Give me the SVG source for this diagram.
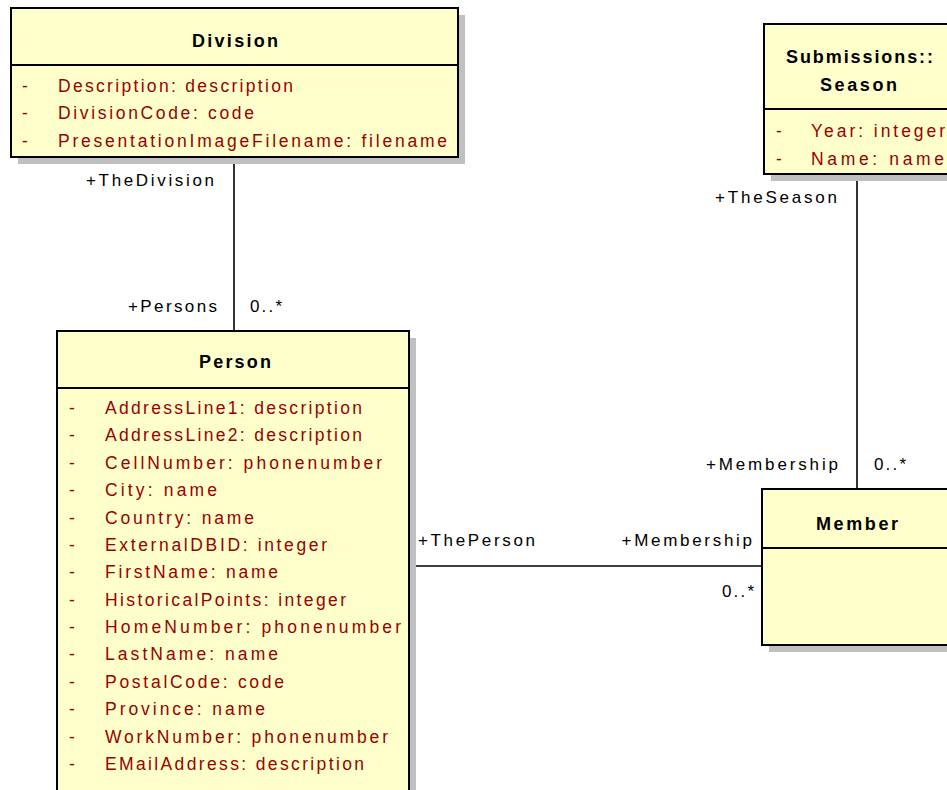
<svg xmlns="http://www.w3.org/2000/svg" width="947" height="790" viewBox="0 0 947 790">
<style>
.shadow{fill:#c0c0c0}
.box{fill:#ffffcc;stroke:#000;stroke-width:2}
.sep{stroke:#000;stroke-width:2}
.title{font-family:"Liberation Sans",Arial,sans-serif;font-size:18px;font-weight:bold;fill:#000}
.attr{font-family:"Liberation Sans",Arial,sans-serif;font-size:17.5px;fill:#990000}
.lbl{font-family:"Liberation Sans",Arial,sans-serif;font-size:17px;fill:#000}
.conn{stroke:#000;stroke-width:1.6;fill:none}
</style>
<rect width="947" height="790" fill="#ffffff"/>
<g id="connectors">
<line class="conn" x1="234" y1="157" x2="234" y2="331"/>
<line class="conn" x1="857" y1="174" x2="857" y2="489"/>
<line class="conn" x1="409" y1="566" x2="762" y2="566"/>
<text class="lbl" x="86" y="185.5" textLength="128" lengthAdjust="spacing">+TheDivision</text>
<text class="lbl" x="128" y="311.5" textLength="89" lengthAdjust="spacing">+Persons</text>
<text class="lbl" x="250" y="311.5" textLength="32" lengthAdjust="spacing">0..*</text>
<text class="lbl" x="715" y="203" textLength="122" lengthAdjust="spacing">+TheSeason</text>
<text class="lbl" x="706" y="470" textLength="132" lengthAdjust="spacing">+Membership</text>
<text class="lbl" x="874" y="470" textLength="32" lengthAdjust="spacing">0..*</text>
<text class="lbl" x="418" y="546" textLength="117" lengthAdjust="spacing">+ThePerson</text>
<text class="lbl" x="621.5" y="546" textLength="130.5" lengthAdjust="spacing">+Membership</text>
<text class="lbl" x="722" y="597" textLength="32" lengthAdjust="spacing">0..*</text>
</g>
<g id="division">
<rect class="shadow" x="18" y="15" width="447" height="149"/>
<rect class="box" x="11" y="8" width="447" height="149"/>
<line class="sep" x1="11" y1="65" x2="458" y2="65"/>
<text class="title" x="192" y="46.5" textLength="86" lengthAdjust="spacing">Division</text>
<text class="attr" x="22" y="91.5">-</text>
<text class="attr" x="58" y="91.5" textLength="235" lengthAdjust="spacing">Description: description</text>
<text class="attr" x="22" y="119">-</text>
<text class="attr" x="58" y="119" textLength="196" lengthAdjust="spacing">DivisionCode: code</text>
<text class="attr" x="22" y="146.5">-</text>
<text class="attr" x="58" y="146.5" textLength="389" lengthAdjust="spacing">PresentationImageFilename: filename</text>
</g>
<g id="season">
<rect class="shadow" x="771" y="31" width="190" height="150"/>
<rect class="box" x="764" y="24" width="190" height="150"/>
<line class="sep" x1="764" y1="109" x2="954" y2="109"/>
<text class="title" x="786" y="63" textLength="147" lengthAdjust="spacing">Submissions::</text>
<text class="title" x="820" y="91" textLength="77" lengthAdjust="spacing">Season</text>
<text class="attr" x="776" y="137">-</text>
<text class="attr" x="811" y="137" textLength="134" lengthAdjust="spacing">Year: integer</text>
<text class="attr" x="776" y="165">-</text>
<text class="attr" x="811" y="165" textLength="133" lengthAdjust="spacing">Name: name</text>
</g>
<g id="person">
<rect class="shadow" x="64" y="338" width="352" height="480"/>
<rect class="box" x="57" y="331" width="352" height="480"/>
<line class="sep" x1="57" y1="388" x2="409" y2="388"/>
<text class="title" x="199" y="368" textLength="72" lengthAdjust="spacing">Person</text>
<g class="attr">
<text x="69" y="414">-</text><text x="105" y="414" textLength="257" lengthAdjust="spacing">AddressLine1: description</text>
<text x="69" y="441.4">-</text><text x="105" y="441.4" textLength="257" lengthAdjust="spacing">AddressLine2: description</text>
<text x="69" y="468.8">-</text><text x="105" y="468.8" textLength="277" lengthAdjust="spacing">CellNumber: phonenumber</text>
<text x="69" y="496.1">-</text><text x="105" y="496.1" textLength="112" lengthAdjust="spacing">City: name</text>
<text x="69" y="523.5">-</text><text x="105" y="523.5" textLength="149" lengthAdjust="spacing">Country: name</text>
<text x="69" y="550.9">-</text><text x="105" y="550.9" textLength="222" lengthAdjust="spacing">ExternalDBID: integer</text>
<text x="69" y="578.3">-</text><text x="105" y="578.3" textLength="173" lengthAdjust="spacing">FirstName: name</text>
<text x="69" y="605.7">-</text><text x="105" y="605.7" textLength="241" lengthAdjust="spacing">HistoricalPoints: integer</text>
<text x="69" y="633">-</text><text x="105" y="633" textLength="296" lengthAdjust="spacing">HomeNumber: phonenumber</text>
<text x="69" y="660.4">-</text><text x="105" y="660.4" textLength="173" lengthAdjust="spacing">LastName: name</text>
<text x="69" y="687.8">-</text><text x="105" y="687.8" textLength="179" lengthAdjust="spacing">PostalCode: code</text>
<text x="69" y="715.2">-</text><text x="105" y="715.2" textLength="160" lengthAdjust="spacing">Province: name</text>
<text x="69" y="742.5">-</text><text x="105" y="742.5" textLength="283" lengthAdjust="spacing">WorkNumber: phonenumber</text>
<text x="69" y="769.9">-</text><text x="105" y="769.9" textLength="259" lengthAdjust="spacing">EMailAddress: description</text>
</g>
</g>
<g id="member">
<rect class="shadow" x="769" y="496" width="190" height="156"/>
<rect class="box" x="762" y="489" width="190" height="156"/>
<line class="sep" x1="762" y1="548" x2="952" y2="548"/>
<text class="title" x="816" y="530" textLength="82" lengthAdjust="spacing">Member</text>
</g>
</svg>
